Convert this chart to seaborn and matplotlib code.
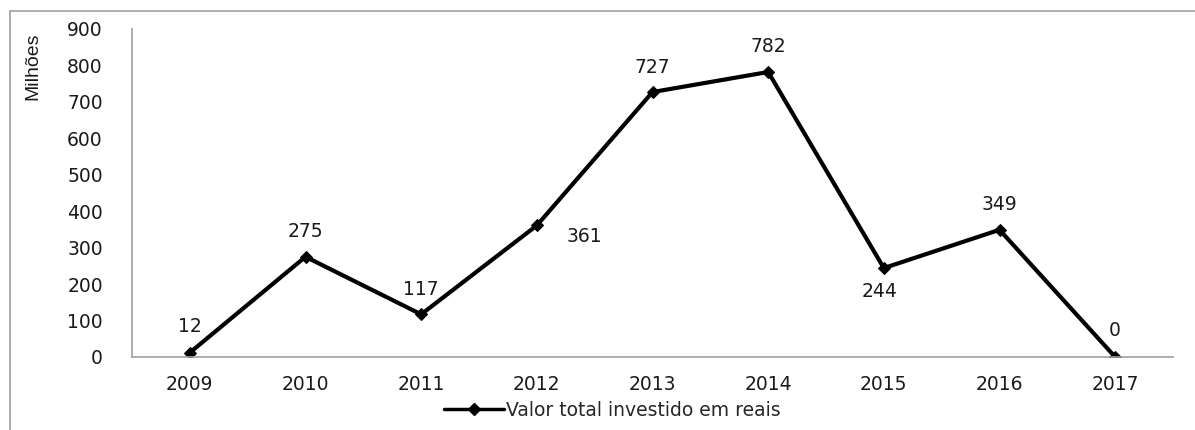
import matplotlib
matplotlib.use("Agg")
import matplotlib.pyplot as plt
import seaborn as sns
import pandas as pd
from matplotlib.lines import Line2D

years = ["2009", "2010", "2011", "2012", "2013", "2014", "2015", "2016", "2017"]
values = [12, 275, 117, 361, 727, 782, 244, 349, 0]
series_name = "Valor total investido em reais"
y_ticks = [0, 100, 200, 300, 400, 500, 600, 700, 800, 900]

df = pd.DataFrame({"ano": years, "valor": values})

sns.set_style("white")
plt.rcParams["font.family"] = ["DejaVu Sans"]

FS = 13.5
TXT = "#1a1a1a"

fig = plt.figure(figsize=(11.95, 4.30), dpi=100)
ax = fig.add_axes([132/1195, 1 - 357/430, (1173-132)/1195, (357-29)/430])

sns.lineplot(data=df, x="ano", y="valor", ax=ax, color="black", linewidth=3,
             marker="D", markersize=6.5, markeredgecolor="black", sort=False)

ax.set_xlim(-0.5, len(years) - 0.5)
ax.set_ylim(0, 900)
ax.set_yticks(y_ticks)
ax.set_yticklabels([str(t) for t in y_ticks])
ax.tick_params(axis="y", length=0, pad=21, labelsize=FS, labelcolor=TXT)
ax.tick_params(axis="x", length=0, pad=13, labelsize=FS, labelcolor=TXT)
ax.set_xlabel("")
ax.set_ylabel("")

for s in ["top", "right"]:
    ax.spines[s].set_visible(False)
for s in ["left", "bottom"]:
    ax.spines[s].set_color("#a0a0a0")
    ax.spines[s].set_linewidth(1.2)

# data labels (offsets in points)
offsets = {0: (0, 19), 1: (0, 18.5), 2: (0, 18), 3: (34, -8), 4: (0, 18),
           5: (0, 18.5), 6: (-3, -17), 7: (0, 18), 8: (0, 19)}
for i, v in enumerate(values):
    dx, dy = offsets[i]
    ax.annotate(str(v), (i, v), xytext=(dx, dy), textcoords="offset points",
                ha="center", va="center", fontsize=FS, color=TXT)

# y-axis unit label
fig.text(33/1195, 1 - 66/430, "Milhões", rotation=90, ha="center", va="center",
         fontsize=14, family=["Liberation Sans Narrow", "Liberation Sans"], color=TXT)

# legend
handle = Line2D([0], [0], color="black", linewidth=2.5, marker="D", markersize=6)
fig.legend([handle], [series_name], loc="center", bbox_to_anchor=(612/1195, 1 - 410/430),
           frameon=False, fontsize=FS, handlelength=3.2, handletextpad=0.1,
           borderaxespad=0, borderpad=0)

# outer frame (cropped)
fig.add_artist(Line2D([10/1195, 10/1195], [0, 1 - 11/430], transform=fig.transFigure,
                      color="#a0a0a0", linewidth=1.2))
fig.add_artist(Line2D([10/1195, 1], [1 - 11/430, 1 - 11/430], transform=fig.transFigure,
                      color="#a0a0a0", linewidth=1.2))

fig.savefig("out.png", dpi=100)
